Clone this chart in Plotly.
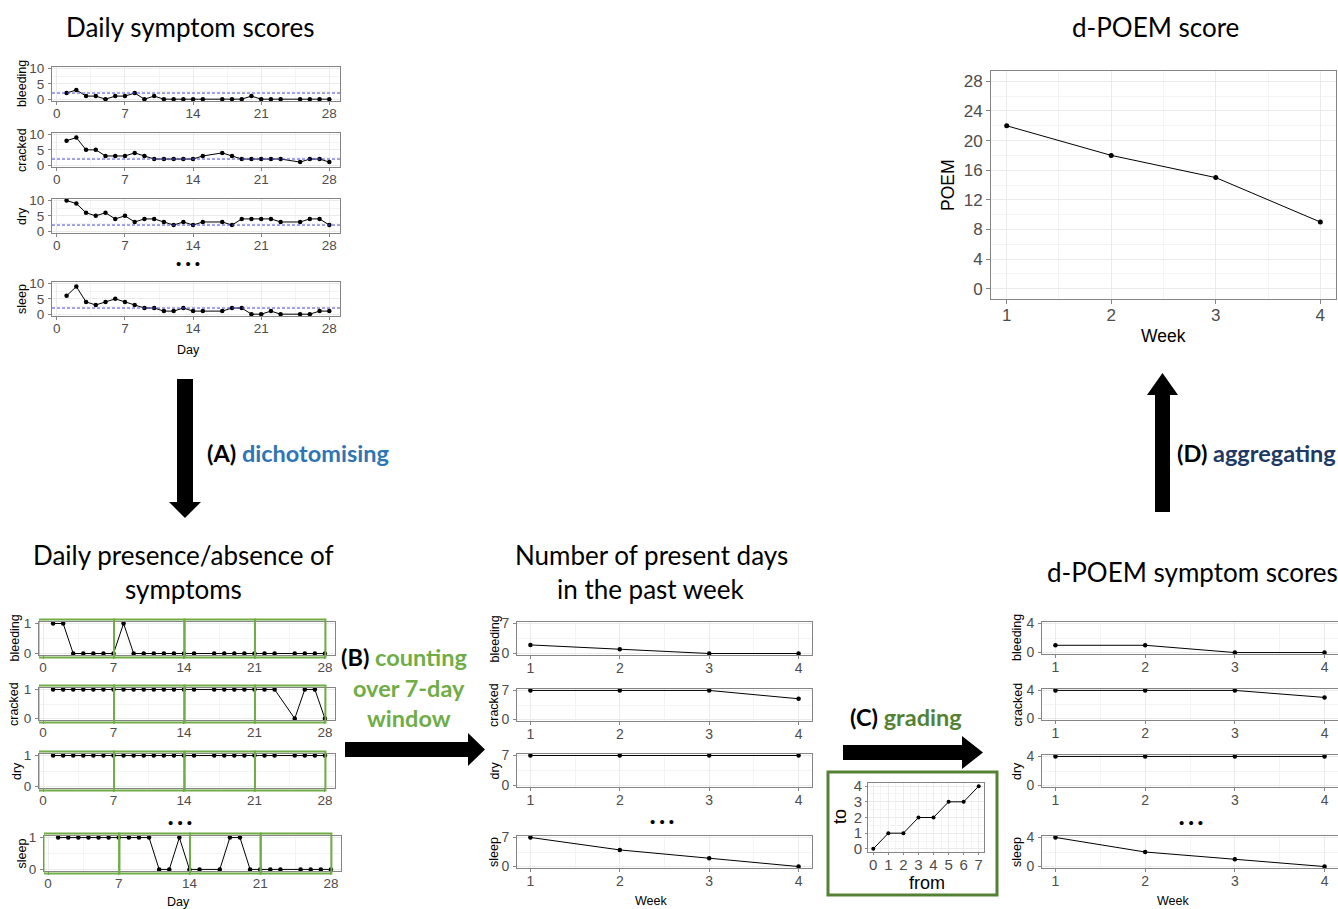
import plotly.graph_objects as go

W, H = 1338, 909

# ---------------- data ----------------
symptoms = ["bleeding", "cracked", "dry", "sleep"]
days = [1, 2, 3, 4, 5, 6, 7, 8, 9, 10, 11, 12, 13, 14, 15,
        17, 18, 19, 20, 21, 22, 23, 25, 26, 27, 28]
day_ticks = [0, 7, 14, 21, 28]

score_bleeding = [2, 3, 1, 1, 0, 1, 1, 2, 0, 1, 0, 0, 0, 0, 0,
                  0, 0, 0, 1, 0, 0, 0, 0, 0, 0, 0]
score_cracked = [8, 9, 5, 5, 3, 3, 3, 4, 3, 2, 2, 2, 2, 2, 3,
                 4, 3, 2, 2, 2, 2, 2, 1, 2, 2, 1]
score_dry = [10, 9, 6, 5, 6, 4, 5, 3, 4, 4, 3, 2, 3, 2, 3,
             3, 2, 4, 4, 4, 4, 3, 3, 4, 4, 2]
score_sleep = [6, 9, 4, 3, 4, 5, 4, 3, 2, 2, 1, 1, 2, 1, 1,
               1, 2, 2, 0, 0, 1, 0, 0, 0, 1, 1]
threshold = 2

present_bleeding = [1, 1, 0, 0, 0, 0, 0, 1, 0, 0, 0, 0, 0, 0, 0,
                    0, 0, 0, 0, 0, 0, 0, 0, 0, 0, 0]
present_cracked = [1, 1, 1, 1, 1, 1, 1, 1, 1, 1, 1, 1, 1, 1, 1,
                   1, 1, 1, 1, 1, 1, 1, 0, 1, 1, 0]
present_dry = [1, 1, 1, 1, 1, 1, 1, 1, 1, 1, 1, 1, 1, 1, 1,
               1, 1, 1, 1, 1, 1, 1, 1, 1, 1, 1]
present_sleep = [1, 1, 1, 1, 1, 1, 1, 1, 1, 1, 0, 0, 1, 0, 0,
                 0, 1, 1, 0, 0, 0, 0, 0, 0, 0, 0]

weeks = [1, 2, 3, 4]
count_bleeding = [2, 1, 0, 0]
count_cracked = [7, 7, 7, 5]
count_dry = [7, 7, 7, 7]
count_sleep = [7, 4, 2, 0]

grade_bleeding = [1, 1, 0, 0]
grade_cracked = [4, 4, 4, 3]
grade_dry = [4, 4, 4, 4]
grade_sleep = [4, 2, 1, 0]

grade_from = [0, 1, 2, 3, 4, 5, 6, 7]
grade_to = [0, 1, 1, 2, 2, 3, 3, 4]

poem_score = [22, 18, 15, 9]
poem_ticks = [0, 4, 8, 12, 16, 20, 24, 28]

# ---------------- styling ----------------
BORDER = "#858585"
GRID = "#EBEBEB"
MINOR = "#F4F4F4"
TICKC = "#4D4D4D"
AXFONT = "Liberation Sans, Arial, sans-serif"
TFONT = "Lato, Open Sans, sans-serif"
GREEN = "#70AD47"
DKGREEN = "#548235"
BLUE = "#2E75B6"
NAVY = "#203864"
TITLE_SIZE = 26
STEP_SIZE = 23.5

fig = go.Figure()
layout_axes = {}
counter = [0]


def px(x):
    return x / W


def py(y):
    return 1 - y / H


def add_panel(box, xr, yr, xt, yt, xminor, yminor, xs, ys, tick_size=13.5, msize=4.5,
              ticklen=3, xstandoff=-3, ystandoff=1):
    counter[0] += 1
    n = counter[0]
    sx = "" if n == 1 else str(n)
    l, t, r, b = box
    common = dict(showline=True, mirror=True, linecolor=BORDER, linewidth=1,
                  ticks="outside", ticklen=ticklen, tickcolor=BORDER, tickwidth=1,
                  showgrid=True, gridcolor=GRID, gridwidth=1, zeroline=False,
                  tickfont=dict(family=AXFONT, size=tick_size, color=TICKC),
                  automargin=False, fixedrange=True, tickmode="array")
    layout_axes["xaxis" + sx] = dict(
        common, domain=[px(l), px(r)], range=xr, anchor="y" + sx,
        tickvals=xt, ticktext=[str(v) for v in xt], ticklabelstandoff=xstandoff,
        minor=dict(tickmode="array", tickvals=xminor, showgrid=True,
                   gridcolor=MINOR, gridwidth=1, ticks=""))
    layout_axes["yaxis" + sx] = dict(
        common, domain=[py(b), py(t)], range=yr, anchor="x" + sx,
        tickvals=yt, ticktext=[str(v) for v in yt], ticklabelstandoff=ystandoff,
        minor=dict(tickmode="array", tickvals=yminor, showgrid=True,
                   gridcolor=MINOR, gridwidth=1, ticks=""))
    fig.add_trace(go.Scatter(x=xs, y=ys, xaxis="x" + sx, yaxis="y" + sx,
                             mode="lines+markers", showlegend=False,
                             line=dict(color="black", width=1),
                             marker=dict(color="black", size=msize),
                             hoverinfo="skip"))
    return sx


annotations = []
shapes = []


def text(x, y, s, size, color="black", family=TFONT, angle=0, xanchor="center"):
    annotations.append(dict(x=px(x), y=py(y), xref="paper", yref="paper", text=s,
                            showarrow=False, textangle=angle, xanchor=xanchor,
                            yanchor="middle",
                            font=dict(family=family, size=size, color=color)))


# ---------------- top-left: daily scores ----------------
score_boxes = [(52, 67, 340, 101), (52, 133, 340, 167), (52, 199, 340, 233), (52, 282, 340, 316)]
score_series = [score_bleeding, score_cracked, score_dry, score_sleep]
for name, box, ser in zip(symptoms, score_boxes, score_series):
    sx = add_panel(box, [-0.5, 29.1], [-0.6, 10.5], day_ticks, [0, 5, 10],
                   [3.5, 10.5, 17.5, 24.5], [2.5, 7.5], days, ser)
    shapes.append(dict(type="line", xref="x" + sx + " domain", yref="y" + sx,
                       x0=0, x1=1, y0=threshold, y1=threshold,
                       line=dict(color="#4646E0", width=1, dash="3px,2px")))
    text(22, (box[1] + box[3]) / 2, name, 12.5, family=AXFONT, angle=-90)
text(188, 264, "• • •", 15, family=AXFONT)
text(188, 350, "Day", 12.5, family=AXFONT)

# ---------------- bottom-left: presence/absence ----------------
pres_boxes = [(39, 622, 335, 655), (39, 688, 335, 720), (39, 754, 335, 788), (44, 836, 341, 871)]
pres_series = [present_bleeding, present_cracked, present_dry, present_sleep]
pres_label_x = [14, 14, 17, 21]
window_edges = [0, 7, 14, 21, 28]
for name, box, ser, lx in zip(symptoms, pres_boxes, pres_series, pres_label_x):
    sx = add_panel(box, [-0.4, 29.0], [-0.05, 1.05], day_ticks, [0, 1],
                   [3.5, 10.5, 17.5, 24.5], [0.5], days, ser)
    for i in range(4):
        x0 = window_edges[i] - (0.45 if i == 0 else -0.05)
        x1 = window_edges[i + 1] + 0.05
        shapes.append(dict(type="rect", xref="x" + sx, yref="paper",
                           x0=x0, x1=x1, y0=py(box[3] + 2.5), y1=py(box[1] - 2.5),
                           line=dict(color=GREEN, width=2), fillcolor="rgba(0,0,0,0)"))
    text(lx, (box[1] + box[3]) / 2, name, 12.5, family=AXFONT, angle=-90)
text(180, 822, "• • •", 15, family=AXFONT)
text(179, 902, "Day", 12.5, family=AXFONT)

# ---------------- middle: weekly counts ----------------
week_boxes = [(517, 622, 812, 655), (517, 689, 812, 721), (517, 754, 812, 787), (517, 836, 812, 868)]
week_series = [count_bleeding, count_cracked, count_dry, count_sleep]
for name, box, ser in zip(symptoms, week_boxes, week_series):
    add_panel(box, [0.85, 4.15], [-0.35, 7.35], weeks, [0, 7],
              [1.5, 2.5, 3.5], [3.5], weeks, ser, tick_size=14)
    text(494, (box[1] + box[3]) / 2, name, 12.5, family=AXFONT, angle=-90)
text(662, 821, "• • •", 15, family=AXFONT)
text(651, 901, "Week", 12.5, family=AXFONT)

# ---------------- right: graded scores ----------------
grade_boxes = [(1042, 622, 1338, 654), (1042, 689, 1338, 720), (1042, 755, 1338, 787), (1042, 836, 1338, 868)]
grade_series = [grade_bleeding, grade_cracked, grade_dry, grade_sleep]
for name, box, ser in zip(symptoms, grade_boxes, grade_series):
    add_panel(box, [0.85, 4.15], [-0.2, 4.2], weeks, [0, 4],
              [1.5, 2.5, 3.5], [2], weeks, ser, tick_size=14)
    text(1017, (box[1] + box[3]) / 2, name, 12.5, family=AXFONT, angle=-90)
text(1191, 822, "• • •", 15, family=AXFONT)
text(1173, 901, "Week", 12.5, family=AXFONT)

# ---------------- grading inset ----------------
shapes.append(dict(type="rect", xref="paper", yref="paper",
                   x0=px(828), x1=px(997), y0=py(895), y1=py(772),
                   line=dict(color=DKGREEN, width=3), fillcolor="white", layer="below"))
add_panel((868, 783, 984, 852), [-0.35, 7.35], [-0.2, 4.2], grade_from, [0, 1, 2, 3, 4],
          [0.5, 1.5, 2.5, 3.5, 4.5, 5.5, 6.5], [0.5, 1.5, 2.5, 3.5],
          grade_from, grade_to, tick_size=15, msize=4, ticklen=2, ystandoff=0)
text(840, 817, "to", 18, family=AXFONT, angle=-90)
text(927, 883, "from", 18, family=AXFONT)

# ---------------- POEM ----------------
add_panel((991, 71, 1336, 299), [0.85, 4.15], [-1.4, 29.4], weeks, poem_ticks,
          [1.5, 2.5, 3.5], [2, 6, 10, 14, 18, 22, 26], weeks, poem_score,
          tick_size=17, msize=5, ticklen=4, ystandoff=0)
text(948, 185, "POEM", 17.5, family=AXFONT, angle=-90)
text(1163, 336, "Week", 17.5, family=AXFONT)

# ---------------- titles ----------------
text(190, 27, "Daily symptom scores", TITLE_SIZE)
text(1155, 27, "d-POEM score", TITLE_SIZE)
text(183, 555, "Daily presence/absence of", TITLE_SIZE)
text(183, 589, "symptoms", TITLE_SIZE)
text(651, 555, "Number of present days", TITLE_SIZE)
text(651, 589, "in the past week", TITLE_SIZE)
text(1192, 572, "d-POEM symptom scores", TITLE_SIZE)

text(205, 453, "<b>(A) <span style='color:%s'>dichotomising</span></b>" % BLUE, STEP_SIZE, xanchor="left")
text(1175, 453, "<b>(D) <span style='color:%s'>aggregating</span></b>" % NAVY, STEP_SIZE, xanchor="left")
text(404, 657, "<b>(B) <span style='color:%s'>counting</span></b>" % GREEN, STEP_SIZE)
text(409, 688, "<b>over 7-day</b>", STEP_SIZE, color=GREEN)
text(409, 718, "<b>window</b>", STEP_SIZE, color=GREEN)
text(906, 717, "<b>(C) <span style='color:%s'>grading</span></b>" % DKGREEN, STEP_SIZE)


# ---------------- arrows ----------------
def arrow_path(pts):
    return "M " + " L ".join("%f,%f" % (px(a), py(b)) for a, b in pts) + " Z"


arrows = [
    # down (A)
    [(177, 379), (193, 379), (193, 502), (201, 502), (185, 518), (169, 502), (177, 502)],
    # right (B)
    [(345, 742), (468, 742), (468, 733), (485, 749.5), (468, 766), (468, 757), (345, 757)],
    # right (C)
    [(843, 745), (962, 745), (962, 736), (983, 752.5), (962, 769), (962, 760), (843, 760)],
    # up (D)
    [(1155, 512), (1155, 395), (1147, 395), (1162.5, 373), (1178, 395), (1170, 395), (1170, 512)],
]
for a in arrows:
    shapes.append(dict(type="path", xref="paper", yref="paper", path=arrow_path(a),
                       fillcolor="black", line=dict(color="black", width=0)))

fig.update_layout(**layout_axes)
fig.update_layout(width=W, height=H, autosize=False,
                  margin=dict(l=0, r=0, t=0, b=0, pad=0),
                  paper_bgcolor="white", plot_bgcolor="white",
                  showlegend=False, annotations=annotations, shapes=shapes)
fig.write_html("out.html", config={"displayModeBar": False},
               post_script="document.body.style.margin='0px';document.body.style.overflow='hidden';")
